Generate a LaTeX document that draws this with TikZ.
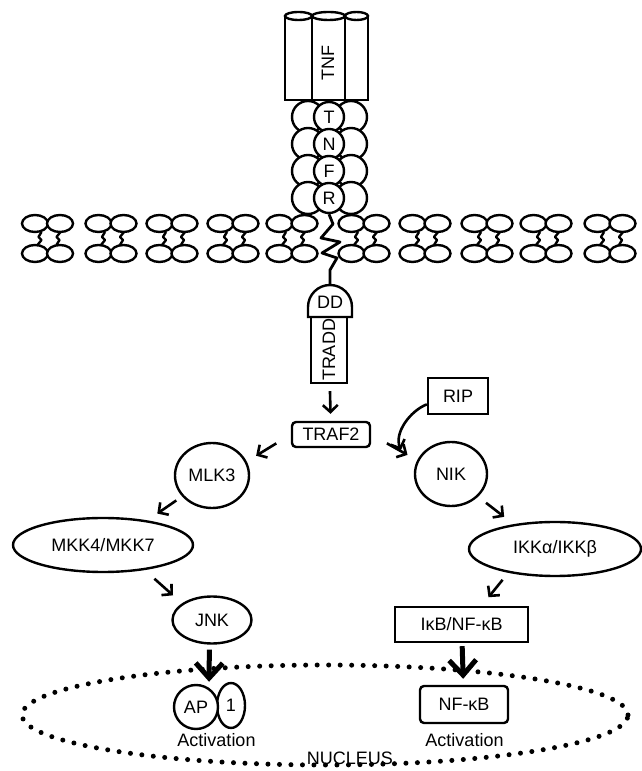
\documentclass[tikz,border=0pt]{standalone}
\usepackage{fontspec}
\setmainfont{Liberation Sans}
\usetikzlibrary{arrows.meta,shapes.geometric}
\begin{document}
\begin{tikzpicture}[x=1pt,y=1pt,line width=2.4pt,
    every node/.style={font=\fontsize{18}{20}\selectfont},
    box/.style={draw,rectangle,inner sep=0pt},
    rbox/.style={draw,rectangle,rounded corners=4pt,inner sep=0pt},
    oval/.style={draw,ellipse,inner sep=0pt},
    ball/.style={draw,circle,fill=white,inner sep=0pt},
    arr/.style={-{Straight Barb[length=7pt,width=15pt]},line width=2.6pt},
    bigarr/.style={-{Straight Barb[length=15pt,width=27pt]},line width=5pt}]
  \useasboundingbox (0,0) rectangle (641,771);
  % TNF trimer
  \foreach \a/\b in {285/312,345/368,312/345}{
    \draw[fill=white] (\a,755) -- (\a,671) -- (\b,671) -- (\b,755);
    \draw[fill=white] ({(\a+\b)/2},755) ellipse ({(\b-\a)/2} and 4);
  }
  \node[rotate=90] (tnf) at (328,708) {TNF};
  % receptor
  \foreach \l/\y in {T/654,N/627,F/600,R/573}{
    \draw[fill=white] (308,\y) circle (16) (351,\y) circle (16);
    \node[ball,minimum size=30pt] (\l) at (329,\y) {\l};
  }
  % membrane
  \foreach \c in {47.5,111,172,233,292,364,425,487,546,610}{
    \draw[line width=2.4pt,line join=round] (\c-6,539) -- (\c-9,534) -- (\c-6,531) -- (\c-10,526)
      (\c+13,539) -- (\c+9,534) -- (\c+12,531) -- (\c+9,526);
    \foreach \dx in {-12.5,12.5}
      \foreach \y in {547.5,517.5}
        \draw[fill=white] (\c+\dx,\y) ellipse (13 and 8.5);
  }
  \coordinate (ddtop) at (330,486);
  \draw[line width=2.8pt,line join=round] (R.south) -- (333,547) -- (321,533) -- (340,529)
    -- (322,518) -- (337,513) -- (330,501) -- (ddtop);
  \draw[fill=white] (308,454) -- (308,464) arc (180:0:22) -- (352,454) -- cycle;
  \node (dd) at (330,469) {DD};
  \node[box,rotate=90,minimum width=66pt,minimum height=36pt] (tradd) at (329,421) {TRADD};
  % signalling
  \node[rbox,minimum width=78pt,minimum height=25pt] (traf) at (331,336.5) {TRAF2};
  \node[box,minimum width=60pt,minimum height=36pt] (rip) at (458,375) {RIP};
  \node[oval,minimum width=74pt,minimum height=65pt] (mlk) at (212,295.5) {MLK3};
  \node[oval,minimum width=72pt,minimum height=64pt] (nik) at (451,297) {NIK};
  \node[oval,minimum width=180pt,minimum height=54pt] (mkk) at (103,226) {MKK4/MKK7};
  \node[oval,minimum width=172pt,minimum height=54pt] (ikk) at (555,222) {IKKα/IKKβ};
  \node[oval,minimum width=79pt,minimum height=47pt] (jnk) at (212,151) {JNK};
  \node[box,minimum width=133pt,minimum height=35pt] (ikb) at (461.5,146.5) {IκB/NF-κB};
  % nucleus
  \draw[line width=5pt,line cap=round,dash pattern=on 0pt off 11.5pt] (325,56) ellipse (303 and 50);
  \node[oval,minimum width=28pt,minimum height=45pt] (one) at (231,65.5) {1};
  \node[ball,minimum size=44pt] (ap) at (196,64) {AP};
  \node[rbox,minimum width=88pt,minimum height=37pt] (nfkb) at (464,66.5) {NF-κB};
  \node (act1) at (216.5,31) {Activation};
  \node (act2) at (464.5,31) {Activation};
  \node (nuc) at (350,12.5) {NUCLEUS};
  % arrows
  \draw[arr,shorten <=7pt,shorten >=7pt] (tradd) -- (traf);
  \draw[arr,shorten <=17pt,shorten >=11pt] (traf.west) -- (mlk.22);
  \draw[arr,shorten <=18pt,shorten >=11pt] (traf.east) -- (nik.158);
  \coordinate (ripend) at (401,321);
  \draw[arr] (rip.195) .. controls (410,360) and (394,338) .. (ripend);
  \draw[arr,shorten <=7pt,shorten >=12pt] (mlk.215) -- (mkk.29);
  \draw[arr,shorten <=13pt,shorten >=12pt] (mkk.329) -- (jnk.151);
  \draw[arr,shorten <=10pt,shorten >=12pt] (nik.320) -- (ikk.149);
  \draw[arr,shorten <=9pt,shorten >=11pt] (ikk.207) -- (ikb.43);
  \draw[bigarr,shorten <=5pt,shorten >=6pt] (jnk.264) -- (ap.56);
  \draw[bigarr,shorten <=3pt,shorten >=6pt] (ikb) -- (nfkb);
\end{tikzpicture}
\end{document}
